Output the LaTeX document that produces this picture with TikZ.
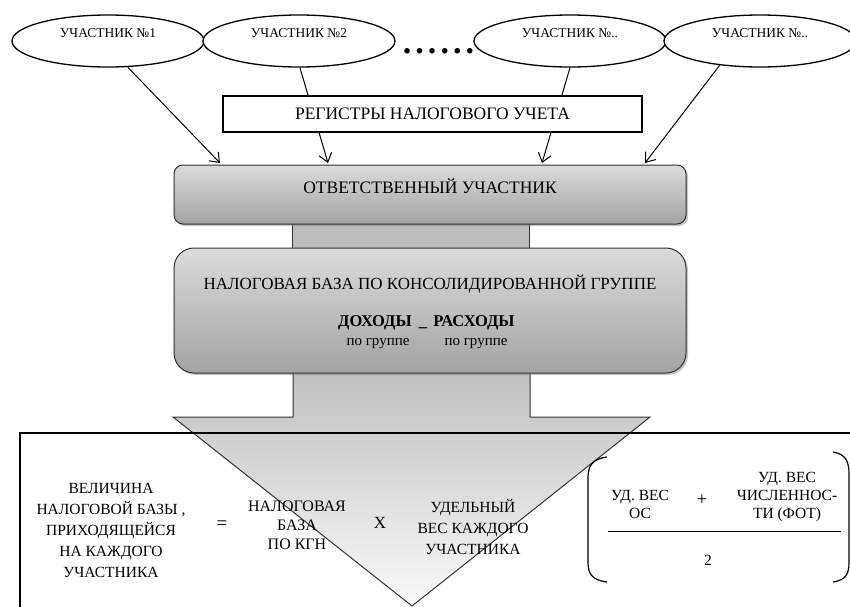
\documentclass[tikz,border=0pt]{standalone}
\usepackage{fontspec}
\setmainfont{Liberation Serif}
\usetikzlibrary{shapes.geometric,arrows.meta,shadows}

\begin{document}
\begin{tikzpicture}[x=1pt,y=-1pt,
    part/.style={ellipse,draw,line width=1.3pt,fill=white,minimum width=192pt,minimum height=52pt,inner sep=0pt},
    ptext/.style={font=\fontsize{13.5}{15}\selectfont},
    big/.style={font=\fontsize{17.5}{20}\selectfont},
    mid/.style={font=\fontsize{15.5}{21}\selectfont,align=center},
    sign/.style={font=\fontsize{19}{21}\selectfont},
    gbox/.style={draw=black!80,line width=1pt,top color=gray!28,bottom color=gray!72,
        drop shadow={opacity=0.45,shadow xshift=2pt,shadow yshift=-2pt}},
    arr/.style={-{Straight Barb[length=8.5pt,width=13pt]},line width=1pt}]
    \useasboundingbox (0,0) rectangle (850,606);
    \clip (0,0) rectangle (850,606);

    \node[part,label={[ptext,yshift=8pt]center:УЧАСТНИК №1}] at (108,41) (u1) {};
    \node[part,label={[ptext,yshift=8pt]center:УЧАСТНИК №2}] at (299,41) (u2) {};
    \node[part,label={[ptext,yshift=8pt]center:УЧАСТНИК №..}] at (570,41) (u3) {};
    \node[part,label={[ptext,yshift=8pt]center:УЧАСТНИК №..}] at (760,41) (u4) {};
    \node[font=\fontsize{34}{34}\selectfont\bfseries,inner sep=0pt,anchor=base] at (438.5,53) (dots)
        {.\kern4.1pt.\kern4.1pt.\kern4.1pt.\kern4.1pt.\kern4.1pt.};

    \coordinate (t1) at (220,163);
    \coordinate (t2) at (328,163);
    \coordinate (t3) at (542,163);
    \coordinate (t4) at (645,163);
    \draw[arr] (u1.-53) -- (t1);
    \draw[arr] (u2.-88) -- (t2);
    \draw[arr] (u3.-90) -- (t3);
    \draw[arr] (u4.-149) -- (t4);

    \node[draw,line width=1.3pt,fill=white,minimum width=419pt,minimum height=36pt,big] at (432.5,114) (reg) {РЕГИСТРЫ НАЛОГОВОГО УЧЕТА};

    % big arrow down to the participants
    \draw[draw=black!80,line width=1pt,top color=gray!58,bottom color=gray!4]
        (293,330) -- (293,417) -- (173,417) -- (412,606) -- (650,417) -- (530,417) -- (530,330);

    \node[draw=black!80,line width=1pt,fill=gray!52,minimum width=237pt,minimum height=34pt] at (410.5,236) (link) {};
    \node[gbox,rounded corners=9pt,minimum width=512pt,minimum height=59pt,
        label={[big,yshift=8pt]center:ОТВЕТСТВЕННЫЙ УЧАСТНИК}] at (430,194.5) (otv) {};
    \node[gbox,rounded corners=20pt,minimum width=512pt,minimum height=125pt] at (430,310.5) (base) {};

    \node[font=\fontsize{17}{20}\selectfont] at (430,284) (title) {НАЛОГОВАЯ БАЗА ПО КОНСОЛИДИРОВАННОЙ ГРУППЕ};
    \node[font=\fontsize{16.5}{18}\selectfont\bfseries] at (375,323) (inc) {ДОХОДЫ};
    \node[font=\fontsize{16.5}{18}\selectfont\bfseries] at (423,328) (minus) {\_};
    \node[font=\fontsize{16.5}{18}\selectfont\bfseries] at (474,323) (exp) {РАСХОДЫ};
    \node[font=\fontsize{15}{17}\selectfont] at (378,344) (inc2) {по группе};
    \node[font=\fontsize{15}{17}\selectfont] at (476,344) (exp2) {по группе};

    % lower frame with the formula
    \draw[line width=2pt] (20,620) -- (20,433) -- (860,433);

    \node[mid] at (111,530) (vel) {ВЕЛИЧИНА\\НАЛОГОВОЙ БАЗЫ ,\\ПРИХОДЯЩЕЙСЯ\\НА КАЖДОГО\\УЧАСТНИКА};
    \node[sign] at (222,525) (eq) {=};
    \node[mid,font=\fontsize{16}{19}\selectfont] at (297,525) (nb) {НАЛОГОВАЯ\\БАЗА\\ПО КГН};
    \node[mid,font=\fontsize{17}{19}\selectfont] at (380,523) (times) {X};
    \node[mid] at (473,527) (ud) {УДЕЛЬНЫЙ\\ВЕС КАЖДОГО\\УЧАСТНИКА};

    \node[mid,font=\fontsize{15.5}{18}\selectfont] at (640,504) (os) {УД. ВЕС\\ОС};
    \node[sign] at (702,500) (plus) {+};
    \node[mid,font=\fontsize{15.5}{18}\selectfont] at (787,497) (fot) {УД. ВЕС\\ЧИСЛЕННОС-\\ТИ (ФОТ)};
    \node[mid] at (708,560) (two) {2};
    \draw[line width=1pt] (608,531) -- (841,531);
    \draw[line width=1.2pt] (607,457) .. controls (592,459) and (588,466) .. (588,478)
        -- (588,562) .. controls (588,574) and (592,580) .. (607,582);
    \draw[line width=1.2pt] (833,452) .. controls (846,454) and (849,462) .. (849,474)
        -- (849,562) .. controls (849,574) and (846,580) .. (833,582);
\end{tikzpicture}
\end{document}
